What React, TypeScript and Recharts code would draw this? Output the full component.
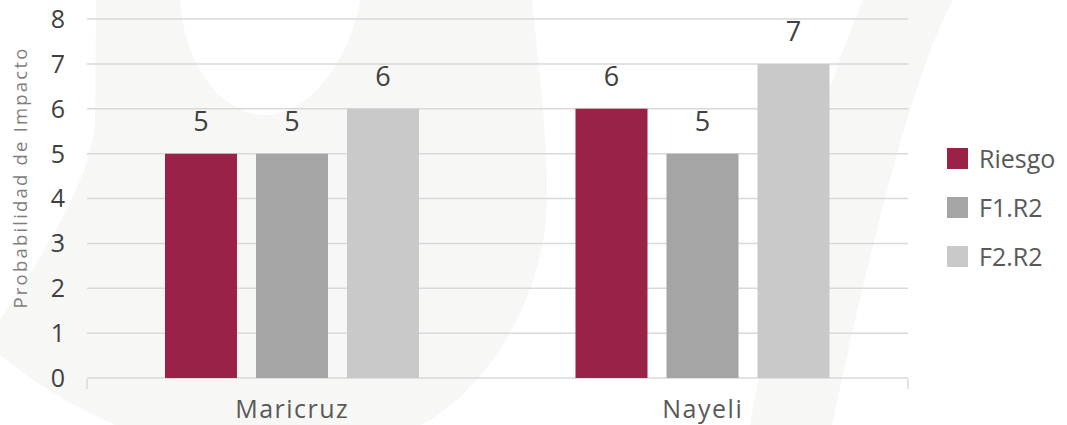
import React from 'react';
import { BarChart, Bar, XAxis, YAxis, CartesianGrid, LabelList } from 'recharts';

const categories = ['Maricruz', 'Nayeli'];
const riesgo = [5, 6];
const f1r2 = [5, 5];
const f2r2 = [6, 7];
const yTicks = [0, 1, 2, 3, 4, 5, 6, 7, 8];

const series = [
  { key: 'Riesgo', values: riesgo, color: '#9B2247' },
  { key: 'F1.R2', values: f1r2, color: '#A5A5A5' },
  { key: 'F2.R2', values: f2r2, color: '#C9C9C9' },
];

const data = categories.map((name, i) => {
  const row: Record<string, string | number> = { name };
  series.forEach((s) => {
    row[s.key] = s.values[i];
  });
  return row;
});

// tick marks sit on the category boundaries, not centres
const edgeTicks = categories.map((_, i) => i).concat(categories.length);

const FONT = '"Open Sans", "DejaVu Sans", sans-serif';
const GRID = '#d9d9d9';
const WATERMARK = '#f7f7f5';

function YLabel({ viewBox }: { viewBox?: { x: number; y: number; width: number; height: number } }) {
  if (!viewBox) return null;
  const x = viewBox.x + 27;
  const y = viewBox.y + viewBox.height / 2 - 21;
  return (
    <text
      x={x}
      y={y}
      transform={`rotate(-90 ${x} ${y})`}
      textAnchor="middle"
      fill="#7f7f7f"
      fontSize={18.5}
      letterSpacing={2.2}
      fontFamily={FONT}
    >
      Probabilidad de Impacto
    </text>
  );
}

// faint logo in the background of the slide
function Watermark() {
  return (
    <svg width={1067} height={425} style={{ position: 'absolute', left: 0, top: 0 }}>
      <path
        d="M96 0 L532 0 C540 80 552 170 545 230 C530 330 470 400 421 425 L115 425 C70 405 30 380 0 355 L0 320 C40 260 92 180 95 120 Z"
        fill={WATERMARK}
      />
      <path d="M180 0 C185 70 225 115 264 115 C310 115 350 60 360 0 Z" fill="#fff" />
      <path d="M863 0 L953 0 C920 60 880 200 832 425 L750 425 C780 250 820 100 863 0 Z" fill={WATERMARK} />
    </svg>
  );
}

export default function App() {
  return (
    <div style={{ position: 'absolute', left: 0, top: 0, width: 1067, height: 425, background: '#fff' }}>
      <Watermark />
      <div style={{ position: 'absolute', left: 0, top: 0 }}>
        <BarChart
          width={1067}
          height={425}
          data={data}
          margin={{ top: 19, right: 159, left: 0, bottom: 0 }}
          barCategoryGap="19%"
          barGap={19}
        >
          <CartesianGrid vertical={false} stroke={GRID} strokeWidth={1.5} />
          <XAxis
            dataKey="name"
            height={1}
            axisLine={false}
            tickLine={false}
            tickSize={0}
            tickMargin={22}
            tick={{ fill: '#595959', fontSize: 25, fontFamily: FONT, letterSpacing: 1.5 }}
          />
          <XAxis
            xAxisId="edge"
            type="number"
            domain={[0, categories.length]}
            ticks={edgeTicks}
            interval={0}
            height={46}
            tick={() => <g />}
            tickSize={10}
            tickLine={{ stroke: GRID, strokeWidth: 1.5 }}
            axisLine={false}
          />
          <YAxis
            width={87}
            domain={[0, 8]}
            ticks={yTicks}
            axisLine={false}
            tickLine={false}
            tickSize={0}
            tickMargin={22}
            tick={{ fill: '#404040', fontSize: 25, fontFamily: FONT }}
            label={<YLabel />}
          />
          {series.map((s) => (
            <Bar key={s.key} dataKey={s.key} fill={s.color} isAnimationActive={false}>
              <LabelList
                dataKey={s.key}
                position="top"
                offset={23}
                fill="#404040"
                fontSize={27}
                fontFamily={FONT}
              />
            </Bar>
          ))}
        </BarChart>
      </div>
      {series.map((s, i) => (
        <div
          key={s.key}
          style={{
            position: 'absolute',
            left: 947,
            top: 145 + i * 49,
            display: 'flex',
            alignItems: 'center',
            height: 26,
            fontFamily: FONT,
            fontSize: 25,
            color: '#595959',
          }}
        >
          <span style={{ display: 'inline-block', width: 21, height: 21, background: s.color, marginRight: 11 }} />
          <span>{s.key}</span>
        </div>
      ))}
    </div>
  );
}
